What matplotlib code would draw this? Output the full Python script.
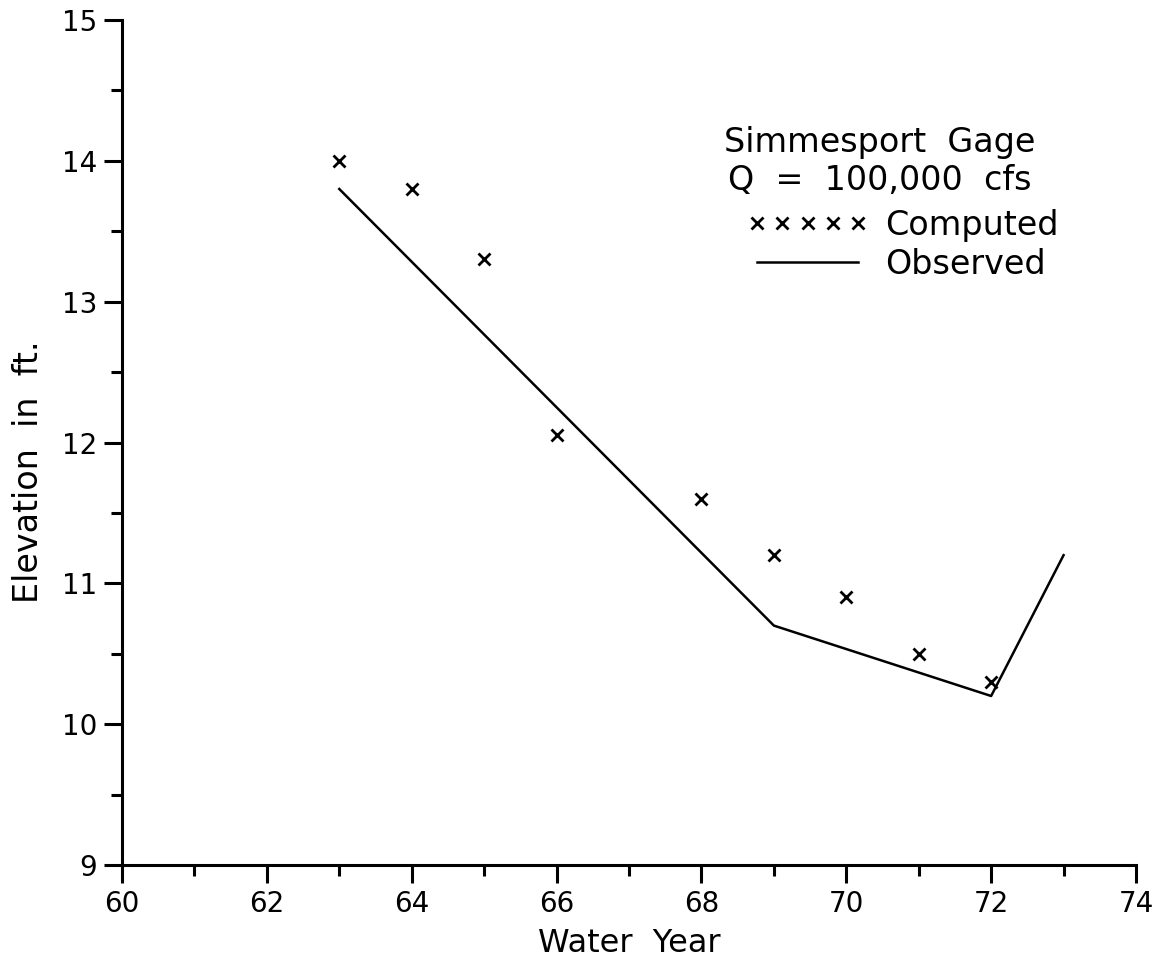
import matplotlib
matplotlib.use("Agg")
import matplotlib.pyplot as plt
from matplotlib.ticker import MultipleLocator
from matplotlib.legend_handler import HandlerLine2D

computed_year = [63, 64, 65, 66, 68, 69, 70, 71, 72]
computed_elev = [14.0, 13.8, 13.3, 12.05, 11.6, 11.2, 10.9, 10.5, 10.3]
observed_year = [63, 69, 72, 73]
observed_elev = [13.8, 10.7, 10.2, 11.2]

x_ticks = [60, 62, 64, 66, 68, 70, 72, 74]
y_ticks = [9, 10, 11, 12, 13, 14, 15]

plt.rcParams['font.family'] = ['DejaVu Sans']

W, H = 1159, 960
fig = plt.figure(figsize=(W / 100, H / 100), dpi=100)
ax = fig.add_axes([122 / W, 1 - 865 / H, (1136 - 122) / W, (865 - 20) / H])

line_cmp, = ax.plot(computed_year, computed_elev, linestyle='none', marker='x', color='black',
                    markersize=9, markeredgewidth=2, label='Computed')
line_obs, = ax.plot(observed_year, observed_elev, color='black', linewidth=1.8,
                    label='Observed')

ax.set_xlim(60, 74)
ax.set_ylim(9, 15)
ax.set_xticks(x_ticks)
ax.set_yticks(y_ticks)
ax.xaxis.set_minor_locator(MultipleLocator(1))
ax.yaxis.set_minor_locator(MultipleLocator(0.5))

for s in ['top', 'right']:
    ax.spines[s].set_visible(False)
for s in ['left', 'bottom']:
    ax.spines[s].set_linewidth(2.2)

ax.tick_params(which='major', direction='out', length=13, width=2.2, labelsize=20, pad=5)
ax.tick_params(which='minor', direction='out', length=8, width=2.2)

ax.set_xlabel('Water  Year', fontsize=23, labelpad=7)
ax.set_ylabel('Elevation  in  ft.', fontsize=24)
ax.yaxis.set_label_coords((45 - 122) / (1136 - 122), (865 - 472) / (865 - 20))

fig.text(880 / W, 1 - 152 / H, 'Simmesport  Gage', ha='center', va='baseline', fontsize=24)
fig.text(880 / W, 1 - 190 / H, 'Q  =  100,000  cfs', ha='center', va='baseline', fontsize=24)

fig.legend([line_cmp, line_obs], ['Computed', 'Observed'], loc='upper left',
           bbox_to_anchor=(757 / W, 1 - 209 / H),
           frameon=False, numpoints=5, handlelength=3.03, fontsize=24,
           handletextpad=0.81, labelspacing=0.18, borderpad=0, borderaxespad=0,
           handler_map={line_cmp: HandlerLine2D(marker_pad=0, numpoints=5),
                        line_obs: HandlerLine2D(marker_pad=0)})

fig.savefig('out.png', dpi=100)
